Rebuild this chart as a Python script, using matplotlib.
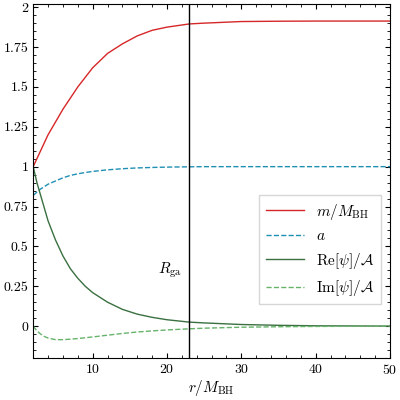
import numpy as np
import matplotlib
matplotlib.use("Agg")
import matplotlib.pyplot as plt

plt.rcParams['mathtext.fontset'] = 'cm'
plt.rcParams['font.family'] = 'serif'
plt.rcParams['font.serif'] = ['cmr10', 'DejaVu Serif']
plt.rcParams['axes.formatter.use_mathtext'] = True

r = [2, 2.5, 3, 3.5, 4, 5, 6, 7, 8, 9, 10, 12, 14, 16, 18, 20, 23, 25, 30, 35, 40, 45, 50]
m = [1.0, 1.05, 1.1, 1.15, 1.2, 1.28, 1.36, 1.43, 1.5, 1.56, 1.62, 1.71, 1.77, 1.82, 1.855, 1.875, 1.895, 1.90, 1.91, 1.912, 1.913, 1.913, 1.913]
a = [0.82, 0.84, 0.86, 0.875, 0.89, 0.91, 0.93, 0.945, 0.955, 0.963, 0.97, 0.98, 0.987, 0.992, 0.995, 0.997, 0.999, 1.0, 1.0, 1.0, 1.0, 1.0, 1.0]
re_psi = [1.0, 0.9, 0.82, 0.74, 0.66, 0.54, 0.44, 0.36, 0.30, 0.25, 0.21, 0.15, 0.105, 0.075, 0.055, 0.04, 0.025, 0.02, 0.01, 0.005, 0.002, 0.001, 0.0]
im_psi = [0.0, -0.03, -0.05, -0.065, -0.075, -0.085, -0.085, -0.082, -0.078, -0.073, -0.068, -0.057, -0.046, -0.037, -0.03, -0.024, -0.017, -0.013, -0.007, -0.004, -0.002, -0.001, 0.0]
yticks = [0, 0.25, 0.5, 0.75, 1, 1.25, 1.5, 1.75, 2]
ylabels = ['0', '0.25', '0.5', '0.75', '1', '1.25', '1.5', '1.75', '2']
r_ga = 23

fig = plt.figure(figsize=(4, 4), dpi=100)
ax = fig.add_axes([0.083, 0.105, 0.892, 0.885])
ax.plot(r, m, color='#d62728', lw=1, label=r'$m/M_{\rm BH}$')
ax.plot(r, a, color='#1f8fb4', lw=1, ls='--', label=r'$a$')
ax.plot(r, re_psi, color='#3a7040', lw=1, label=r'${\rm Re}[\psi]/\mathcal{A}$')
ax.plot(r, im_psi, color='#66b36a', lw=1, ls='--', label=r'${\rm Im}[\psi]/\mathcal{A}$')
ax.axvline(r_ga, color='k', lw=1)
ax.text(r_ga - 1, 0.35, r'$R_{\rm ga}$', ha='right', va='center', fontsize=11)
ax.set_xlim(2, 50)
ax.set_ylim(-0.2, 2.02)
ax.set_yticks(yticks)
ax.set_yticklabels(ylabels)
ax.set_xticks([10, 20, 30, 40, 50])
ax.minorticks_on()
ax.tick_params(which='both', direction='in', top=True, right=True, labelsize=10)
ax.set_xlabel(r'$r/M_{\rm BH}$', fontsize=11, labelpad=1)
ax.legend(loc='lower right', bbox_to_anchor=(0.995, 0.13), fontsize=11, fancybox=False,
          edgecolor='#cccccc', handlelength=2.5)
fig.savefig('out.png')
